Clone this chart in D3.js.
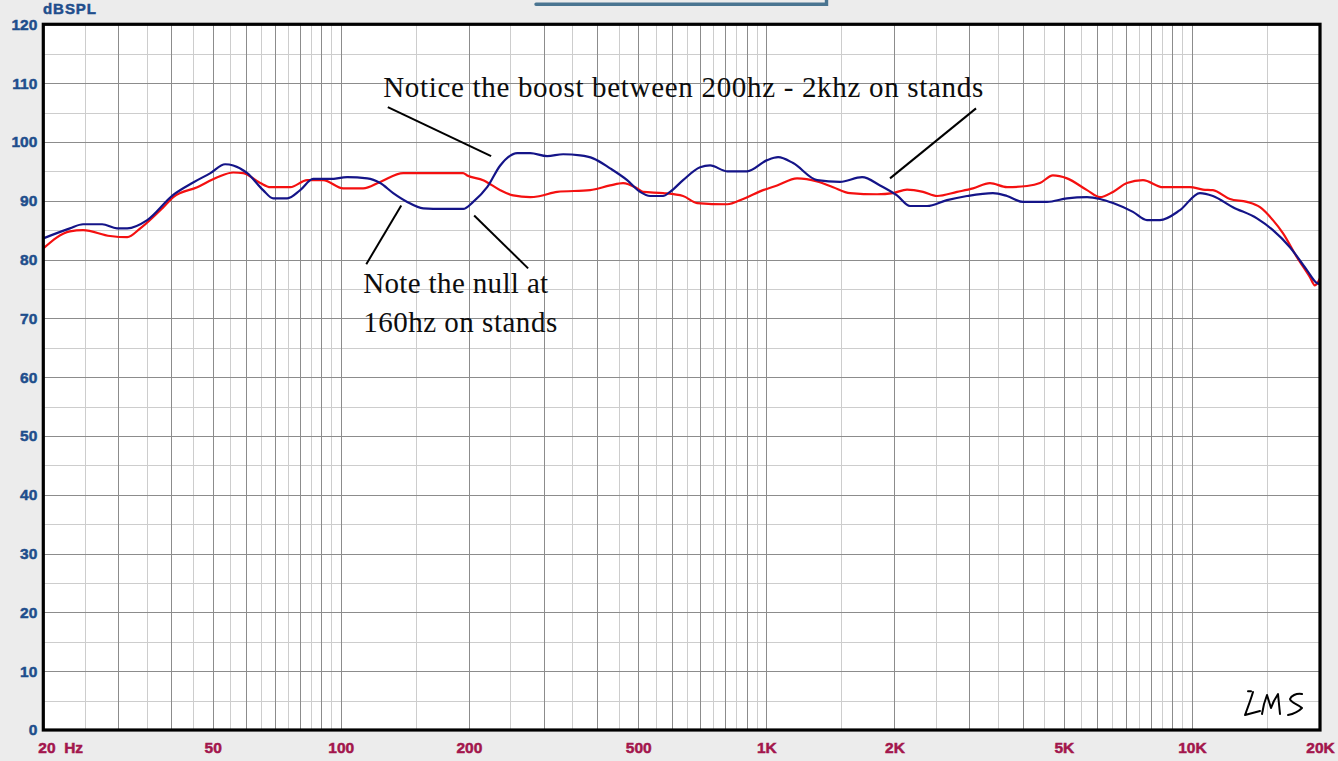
<!DOCTYPE html>
<html>
<head>
<meta charset="utf-8">
<script src="https://cdn.jsdelivr.net/npm/d3@7"></script>
<style>
  html, body { margin: 0; padding: 0; background: #ececec; }
  svg { display: block; }
</style>
</head>
<body>
<svg id="chart" width="1338" height="761"></svg>
<script>
// Frequency response, speaker on stands (blue) vs. off stands (red)
const blueFreq = [20, 23.1, 24.8, 27.5, 29.8, 31.5, 35.1, 40.4, 45, 49.4,
  53.5, 55.9, 60.3, 65.7, 69.4, 74.9, 80.3, 86.1, 94.5, 103.5,
  115.4, 123.8, 132.8, 143.3, 156.2, 174, 193.9, 204.7, 220.8, 237,
  259.9, 278.7, 305.5, 333.1, 365.2, 391.7, 429.5, 470.9, 505.2, 533.3,
  571.9, 594.1, 637.3, 698.9, 737.6, 808.8, 901.3, 1004, 1066, 1156,
  1316, 1490, 1679, 1850, 2028, 2176, 2386, 2658, 2962, 3408,
  3678, 4011, 4566, 5088, 5670, 6082, 6526, 7270, 7843, 8414,
  9375, 10446, 11204, 12486, 14218, 15504, 16998, 18632, 19666, 20000];
const blueDb = [83.6, 85.3, 86.0, 86.0, 85.3, 85.3, 86.7, 91.0, 93.1, 94.7,
  96.2, 96.0, 94.7, 91.8, 90.4, 90.4, 91.8, 93.7, 93.7, 94.0,
  93.8, 93.0, 91.3, 89.8, 88.7, 88.6, 88.6, 89.8, 92.3, 96.0,
  98.1, 98.1, 97.6, 97.9, 97.7, 97.2, 95.5, 93.5, 91.5, 90.8,
  90.8, 91.5, 93.5, 95.7, 96.0, 95.0, 95.0, 96.9, 97.4, 96.4,
  93.5, 93.2, 94.0, 92.6, 90.9, 89.1, 89.1, 90.1, 90.8, 91.3,
  90.8, 89.8, 89.8, 90.4, 90.6, 90.3, 89.6, 88.1, 86.7, 86.7,
  88.4, 91.3, 90.8, 88.9, 87.0, 85.0, 82.1, 78.2, 76.0, 75.8];

const redFreq = [20, 23.1, 24.8, 28.7, 31.5, 33.8, 38.3, 40.4, 46, 51.3,
  55.9, 59, 64.7, 68.3, 76.1, 83.4, 90.9, 101.3, 112.9, 123.8,
  140.2, 193.9, 198.2, 216.1, 237, 254.2, 278.7, 294.2, 322.5, 385.5,
  429.5, 460.6, 497.1, 513.4, 571.9, 637.3, 687.6, 808.8, 882, 982.6,
  1060, 1181, 1316, 1435, 1573, 1821, 1985, 2141, 2335, 2518,
  2806, 3060, 3354, 3678, 4098, 4395, 4715, 5088, 5670, 6082,
  6526, 7036, 7674, 8551, 9898, 10618, 11204, 12286, 13468, 14454,
  15504, 16363, 17652, 18938, 19454, 20000];
const redDb = [81.9, 84.8, 85.0, 84.0, 83.8, 85.3, 88.9, 90.6, 92.3, 94.0,
  94.8, 94.7, 93.0, 92.3, 92.3, 93.5, 93.5, 92.1, 92.1, 93.2,
  94.7, 94.7, 94.3, 93.5, 91.8, 90.9, 90.6, 90.8, 91.5, 91.8,
  92.6, 93.0, 92.1, 91.5, 91.3, 90.8, 89.6, 89.4, 90.3, 91.8,
  92.6, 93.8, 93.3, 92.3, 91.3, 91.1, 91.3, 91.9, 91.5, 90.8,
  91.5, 92.1, 93.0, 92.3, 92.5, 93.0, 94.3, 93.8, 91.8, 90.6,
  91.5, 93.0, 93.5, 92.3, 92.3, 91.9, 91.8, 90.3, 89.8, 88.9,
  86.7, 84.5, 80.4, 77.0, 75.6, 76.8];

// Axis labels
const freqTicks = [20, 50, 100, 200, 500, 1000, 2000, 5000, 10000, 20000];
const freqTickLabels = ["20  Hz", "50", "100", "200", "500", "1K", "2K", "5K", "10K", "20K"];
const dbTicks = [0, 10, 20, 30, 40, 50, 60, 70, 80, 90, 100, 110, 120];

// Callouts: text lines and leader lines, in (Hz, dB)
const noteBoost = "Notice the boost between 200hz - 2khz on stands";
const noteNull = ["Note the null at", "160hz on stands"];
const leaders = [
  [[129, 105.9], [225.6, 97.6]],
  [[3110, 105.7], [1953, 93.8]],
  [[114.8, 79.2], [138.7, 89.2]],
  [[205.8, 87.5], [275.6, 78.5]]
];

const svg = d3.select("#chart");
const W = 1338, H = 761;
const plotL = 43.3, plotR = 1320, plotT = 24.3, plotB = 730;

const x = d3.scaleLog().domain([20, 20000]).range([plotL, plotR]);
const y = d3.scaleLinear().domain([0, 120]).range([plotB, plotT]);

svg.append("rect").attr("width", W).attr("height", H).attr("fill", "#ececec");

// header bar fragment
svg.append("path")
  .attr("d", "M536,4.3 H826.5 V0")
  .attr("fill", "none")
  .attr("stroke", "#4a7591")
  .attr("stroke-width", 3.4)
  .attr("stroke-linecap", "round");

svg.append("rect")
  .attr("x", plotL).attr("y", plotT)
  .attr("width", plotR - plotL).attr("height", plotB - plotT)
  .attr("fill", "#ffffff");

// Grid: major lines at whole multiples per decade, minor at half steps
const majorF = [], minorF = [];
[10, 100, 1000, 10000].forEach(dec => {
  for (let m = 1; m <= 10; m++) {
    const f = m * dec;
    if (f > 20 && f < 20000) majorF.push(f);
  }
  [1.5, 2.5, 3.5, 4.5, 5.5, 6.5, 7.5, 8.5, 9.5].forEach(m => {
    const f = m * dec;
    if (f > 20 && f < 20000) minorF.push(f);
  });
});
const majorDb = d3.range(10, 120, 10);
const minorDb = d3.range(5, 120, 10);

const grid = svg.append("g").attr("shape-rendering", "crispEdges");
grid.selectAll(".vmin").data(minorF).join("line")
  .attr("x1", d => Math.round(x(d)) + 0.5).attr("x2", d => Math.round(x(d)) + 0.5)
  .attr("y1", plotT).attr("y2", plotB)
  .attr("stroke", "#cdcdcd").attr("stroke-width", 1);
grid.selectAll(".hmin").data(minorDb).join("line")
  .attr("y1", d => Math.round(y(d)) + 0.5).attr("y2", d => Math.round(y(d)) + 0.5)
  .attr("x1", plotL).attr("x2", plotR)
  .attr("stroke", "#cdcdcd").attr("stroke-width", 1);
grid.selectAll(".vmaj").data(majorF).join("line")
  .attr("x1", d => Math.round(x(d)) + 0.5).attr("x2", d => Math.round(x(d)) + 0.5)
  .attr("y1", plotT).attr("y2", plotB)
  .attr("stroke", "#8c8c8c").attr("stroke-width", 1);
grid.selectAll(".hmaj").data(majorDb).join("line")
  .attr("y1", d => Math.round(y(d)) + 0.5).attr("y2", d => Math.round(y(d)) + 0.5)
  .attr("x1", plotL).attr("x2", plotR)
  .attr("stroke", "#8c8c8c").attr("stroke-width", 1);

// Response curves
const line = d3.line()
  .x(d => x(d[0])).y(d => y(d[1]))
  .curve(d3.curveMonotoneX);

const redPts = redFreq.map((f, i) => [f, redDb[i]]);
const bluePts = blueFreq.map((f, i) => [f, blueDb[i]]);

svg.append("path").datum(redPts)
  .attr("d", line).attr("fill", "none")
  .attr("stroke", "#f41010").attr("stroke-width", 2.2)
  .attr("stroke-linejoin", "round");
svg.append("path").datum(bluePts)
  .attr("d", line).attr("fill", "none")
  .attr("stroke", "#141488").attr("stroke-width", 2.2)
  .attr("stroke-linejoin", "round");

// Plot frame
svg.append("rect")
  .attr("x", plotL).attr("y", plotT)
  .attr("width", plotR - plotL).attr("height", plotB - plotT)
  .attr("fill", "none").attr("stroke", "#000").attr("stroke-width", 3.2);

// Y axis labels
const sans = "'Liberation Sans', Arial, sans-serif";
const yAxis = d3.axisLeft(y).tickValues(dbTicks).tickSize(0).tickPadding(6);
const gy = svg.append("g").attr("transform", `translate(${plotL},0)`).call(yAxis);
gy.select(".domain").remove();
gy.selectAll("text")
  .attr("font-family", sans)
  .attr("font-weight", "bold").attr("font-size", 15.5)
  .attr("fill", "#1f4e8c")
  .attr("stroke", "#1f4e8c").attr("stroke-width", 0.5);

svg.append("text")
  .attr("x", 43).attr("y", 13.5)
  .attr("font-family", sans)
  .attr("font-weight", "bold").attr("font-size", 15)
  .attr("textLength", 53).attr("lengthAdjust", "spacing")
  .attr("fill", "#1f4e8c")
  .attr("stroke", "#1f4e8c").attr("stroke-width", 0.5)
  .text("dBSPL");

// X axis labels
const xAxis = d3.axisBottom(x).tickValues(freqTicks).tickSize(0).tickPadding(12)
  .tickFormat((d, i) => freqTickLabels[i]);
const gx = svg.append("g").attr("transform", `translate(0,${plotB})`).call(xAxis);
gx.select(".domain").remove();
gx.selectAll("text")
  .attr("font-family", sans)
  .attr("font-weight", "bold").attr("font-size", 15.5)
  .attr("fill", "#a3164c")
  .attr("stroke", "#a3164c").attr("stroke-width", 0.5)
  .style("white-space", "pre")
  .attr("text-anchor", (d, i) => i === 0 ? "start" : "middle")
  .attr("dx", (d, i) => i === 0 ? -5.5 : 0);

// Callout leader lines
svg.append("g").selectAll("line").data(leaders).join("line")
  .attr("x1", d => x(d[0][0])).attr("y1", d => y(d[0][1]))
  .attr("x2", d => x(d[1][0])).attr("y2", d => y(d[1][1]))
  .attr("stroke", "#000").attr("stroke-width", 2);

// Callout text
const serif = "'Liberation Serif', 'Times New Roman', serif";
svg.append("text")
  .attr("x", x(125.8)).attr("y", y(107.6))
  .attr("font-family", serif).attr("font-size", 29)
  .attr("textLength", 600).attr("lengthAdjust", "spacing")
  .attr("fill", "#0d0d0d")
  .text(noteBoost);
svg.append("text")
  .attr("x", x(112.9)).attr("y", y(74.3))
  .attr("font-family", serif).attr("font-size", 29)
  .attr("textLength", 185).attr("lengthAdjust", "spacing")
  .attr("fill", "#0d0d0d")
  .text(noteNull[0]);
svg.append("text")
  .attr("x", x(112.9)).attr("y", y(67.6))
  .attr("font-family", serif).attr("font-size", 29)
  .attr("textLength", 194).attr("lengthAdjust", "spacing")
  .attr("fill", "#0d0d0d")
  .text(noteNull[1]);

// Handwritten LMS mark, placed from the plot's lower-right corner
const logo = svg.append("g")
  .attr("transform", `translate(${plotR - 75},${plotB - 40})`)
  .attr("fill", "none").attr("stroke", "#000")
  .attr("stroke-width", 2).attr("stroke-linecap", "round").attr("stroke-linejoin", "round");
logo.append("path").attr("d", "M3,1.2 L6,1.2");
logo.append("path").attr("d", "M8,2 C6,9 3,17 0,25 L15,21");
logo.append("path").attr("d", "M17,24 C18,17 20,10 22,5 L26,18 C28,12 31,7 33,4 L35,24");
logo.append("path").attr("d", "M57,4 C51,3 46,6 45,9 C46,13 53,14 57,18 C53,22 48,24 43,25");
</script>
</body>
</html>
